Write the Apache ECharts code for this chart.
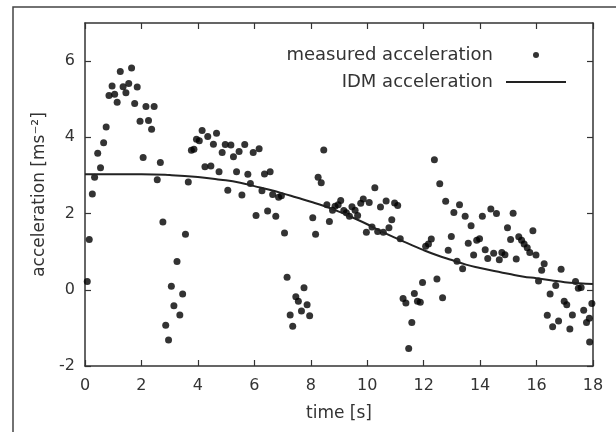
<!DOCTYPE html>
<html>
<head>
<meta charset="utf-8">
<script src="https://cdn.jsdelivr.net/npm/echarts@6/dist/echarts.min.js"></script>
<style>
  html, body { margin: 0; padding: 0; background: #fff; }
  #chart { width: 616px; height: 432px; }
</style>
</head>
<body>
<div id="chart"></div>
<script>
// measured acceleration
var measT = [0.08, 0.15, 0.26, 0.34, 0.45, 0.55, 0.66, 0.75, 0.85, 0.96, 1.05, 1.14, 1.25, 1.35, 1.45, 1.55, 1.65, 1.76, 1.85, 1.95,
  2.06, 2.16, 2.25, 2.36, 2.45, 2.56, 2.67, 2.76, 2.86, 2.96, 3.06, 3.15, 3.26, 3.36, 3.46, 3.56, 3.66, 3.77, 3.86, 3.95,
  4.05, 4.15, 4.25, 4.35, 4.46, 4.55, 4.66, 4.75, 4.86, 4.97, 5.06, 5.17, 5.26, 5.37, 5.46, 5.56, 5.66, 5.77, 5.86, 5.96,
  6.06, 6.17, 6.27, 6.36, 6.47, 6.56, 6.65, 6.76, 6.86, 6.96, 7.07, 7.16, 7.27, 7.36, 7.47, 7.56, 7.67, 7.76, 7.87, 7.96,
  8.07, 8.17, 8.26, 8.37, 8.46, 8.57, 8.66, 8.77, 8.86, 8.97, 9.06, 9.17, 9.26, 9.37, 9.46, 9.57, 9.66, 9.77, 9.86, 9.97,
  10.07, 10.17, 10.27, 10.37, 10.47, 10.57, 10.67, 10.77, 10.87, 10.97, 11.08, 11.17, 11.27, 11.37, 11.47, 11.58, 11.67, 11.78, 11.88, 11.96,
  12.07, 12.17, 12.27, 12.38, 12.47, 12.57, 12.67, 12.78, 12.87, 12.98, 13.07, 13.18, 13.27, 13.38, 13.47, 13.58, 13.68, 13.77, 13.88, 13.98,
  14.08, 14.18, 14.27, 14.38, 14.48, 14.58, 14.68, 14.77, 14.88, 14.97, 15.08, 15.17, 15.28, 15.37, 15.47, 15.56, 15.67, 15.76, 15.87, 15.98,
  16.07, 16.18, 16.27, 16.38, 16.48, 16.57, 16.68, 16.78, 16.87, 16.98, 17.07, 17.18, 17.27, 17.38, 17.48, 17.58, 17.67, 17.77, 17.87, 17.88, 17.96]
var measA = [0.22, 1.32, 2.51, 2.95, 3.58, 3.2, 3.86, 4.27, 5.1, 5.35, 5.13, 4.92, 5.73, 5.33, 5.17, 5.41, 5.82, 4.89, 5.32, 4.42,
  3.47, 4.81, 4.44, 4.21, 4.81, 2.89, 3.34, 1.78, -0.93, -1.32, 0.09, -0.42, 0.74, -0.66, -0.11, 1.46, 2.83, 3.66, 3.69, 3.95,
  3.91, 4.18, 3.23, 4.02, 3.25, 3.82, 4.11, 3.1, 3.6, 3.81, 2.61, 3.8, 3.49, 3.1, 3.63, 2.49, 3.81, 3.03, 2.79, 3.6,
  1.95, 3.7, 2.6, 3.04, 2.07, 3.1, 2.5, 1.93, 2.43, 2.47, 1.49, 0.33, -0.66, -0.96, -0.18, -0.3, -0.56, 0.05, -0.39, -0.68,
  1.89, 1.46, 2.95, 2.81, 3.67, 2.23, 1.79, 2.09, 2.19, 2.23, 2.34, 2.08, 2.02, 1.93, 2.18, 2.09, 1.95, 2.27, 2.38, 1.51,
  2.29, 1.65, 2.68, 1.53, 2.17, 1.51, 2.33, 1.63, 1.84, 2.28, 2.21, 1.34, -0.23, -0.35, -1.54, -0.86, -0.1, -0.3, -0.33, 0.19,
  1.14, 1.2, 1.33, 3.41, 0.28, 2.78, -0.21, 2.32, 1.04, 1.4, 2.03, 0.75, 2.23, 0.55, 1.93, 1.22, 1.68, 0.91, 1.3, 1.34,
  1.93, 1.05, 0.82, 2.12, 0.96, 2.0, 0.79, 0.98, 0.92, 1.63, 1.32, 2.01, 0.81, 1.39, 1.3, 1.2, 1.1, 0.98, 1.55, 0.91,
  0.23, 0.51, 0.68, -0.67, -0.11, -0.97, 0.11, -0.82, 0.54, -0.3, -0.39, -1.03, -0.66, 0.22, 0.04, 0.06, -0.54, -0.86, -0.75, -1.37, -0.36]

// IDM model curve
var idmT = [0, 1, 2, 3, 4, 4.8, 5.5, 6, 6.5, 7, 7.5, 8, 8.5, 9, 9.5, 10, 10.5, 11, 11.5, 12, 12.5, 13, 13.5, 14, 14.5, 15, 15.5, 16, 16.5, 17, 17.5, 18]
var idmA = [3.03, 3.03, 3.03, 3.01, 2.96, 2.89, 2.81, 2.72, 2.63, 2.53, 2.42, 2.31, 2.19, 2.05, 1.89, 1.72, 1.53, 1.36, 1.2, 1.04, 0.9, 0.78, 0.66, 0.57, 0.49, 0.42, 0.35, 0.3, 0.25, 0.2, 0.17, 0.15]

var xTicks = [0, 2, 4, 6, 8, 10, 12, 14, 16, 18]
var yTicks = [-2, 0, 2, 4, 6]

var font = 'DejaVu Sans'
var ink = '#333'

function zip(a, b) {
  return a.map(function (v, i) { return [v, b[i]] })
}

function axis(extra) {
  return Object.assign({
    type: 'value',
    axisLine: { show: true, onZero: false, lineStyle: { color: ink, width: 1.5 } },
    axisTick: { show: true, inside: true, length: 6, lineStyle: { color: ink, width: 1.2 } },
    splitLine: { show: false },
    axisLabel: { color: ink, fontFamily: font, fontSize: 16 }
  }, extra)
}

var chart = echarts.init(document.getElementById('chart'), null, { renderer: 'canvas' })

chart.setOption({
  backgroundColor: '#fff',
  animation: false,
  textStyle: { fontFamily: font },
  graphic: [{
    type: 'rect',
    shape: { x: 13, y: 7, width: 640, height: 460 },
    style: { fill: 'none', stroke: '#444', lineWidth: 1.5 },
    silent: true
  }],
  grid: { left: 85, right: 23, top: 23, bottom: 66 },
  legend: {
    orient: 'vertical',
    right: 50,
    top: 46,
    padding: 0,
    align: 'right',
    itemWidth: 60,
    itemHeight: 6,
    itemGap: 9,
    textStyle: { color: ink, fontFamily: font, fontSize: 18, padding: [0, 8, 0, 0] },
    data: [
      { name: 'measured acceleration', icon: 'circle' },
      { name: 'IDM acceleration', icon: 'path://M0 0H60V2H0Z' }
    ]
  },
  xAxis: [
    axis({
      min: 0, max: 18,
      name: 'time [s]',
      nameLocation: 'middle',
      nameGap: 39,
      nameTextStyle: { color: ink, fontFamily: font, fontSize: 17 },
      axisLabel: { color: ink, fontFamily: font, fontSize: 16, margin: 12, customValues: xTicks },
      axisTick: { show: true, inside: true, length: 6, customValues: xTicks, lineStyle: { color: ink, width: 1.2 } }
    }),
    axis({
      min: 0, max: 18, position: 'top',
      axisLabel: { show: false },
      axisTick: { show: true, inside: true, length: 6, customValues: xTicks, lineStyle: { color: ink, width: 1.2 } }
    })
  ],
  yAxis: [
    axis({
      min: -2, max: 7,
      name: 'acceleration [ms⁻²]',
      nameLocation: 'middle',
      nameGap: 34,
      nameTextStyle: { color: ink, fontFamily: font, fontSize: 17 },
      axisLabel: { color: ink, fontFamily: font, fontSize: 16, margin: 10, customValues: yTicks },
      axisTick: { show: true, inside: true, length: 6, customValues: yTicks, lineStyle: { color: ink, width: 1.2 } }
    }),
    axis({
      min: -2, max: 7, position: 'right',
      axisLabel: { show: false },
      axisTick: { show: true, inside: true, length: 6, customValues: yTicks, lineStyle: { color: ink, width: 1.2 } }
    })
  ],
  series: [
    {
      name: 'measured acceleration',
      type: 'scatter',
      symbol: 'circle',
      symbolSize: 7,
      itemStyle: { color: '#000' },
      data: zip(measT, measA)
    },
    {
      name: 'IDM acceleration',
      type: 'line',
      smooth: true,
      symbol: 'none',
      itemStyle: { color: '#222' },
      lineStyle: { color: '#222', width: 2 },
      data: zip(idmT, idmA)
    }
  ]
})
</script>
</body>
</html>
